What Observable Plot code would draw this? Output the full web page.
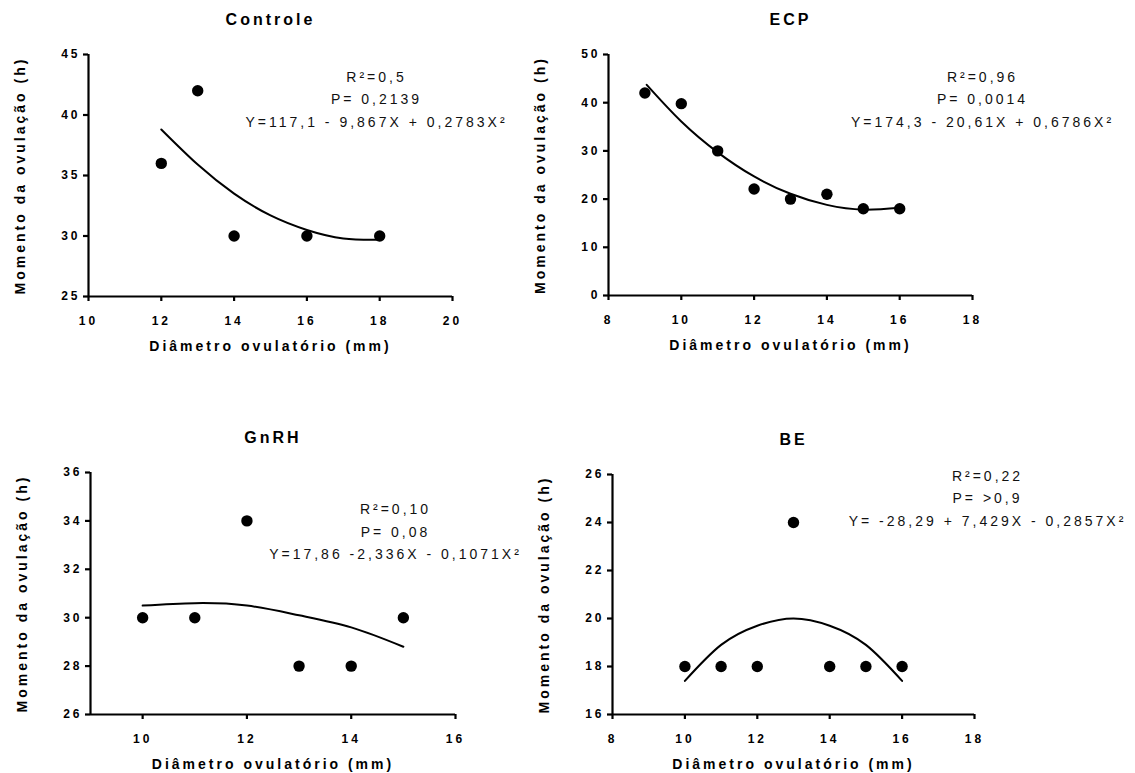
<!DOCTYPE html>
<html><head><meta charset="utf-8">
<script src="https://cdn.jsdelivr.net/npm/d3@7"></script>
<script src="https://cdn.jsdelivr.net/npm/@observablehq/plot@0.6"></script>
<style>
body{margin:0;background:#fff;}
#chart{position:relative;width:1135px;height:773px;overflow:hidden;background:#fff;}
#chart svg{position:absolute;}
</style></head><body><div id="chart"></div>
<script>
// ---- texts ----
const yLabel = "Momento da ovulação (h)";
const xLabel = "Diâmetro ovulatório (mm)";

// ---- Controle ----
const controleTitle = "Controle";
const controleX = [12, 13, 14, 16, 18];
const controleY = [36, 42, 30, 30, 30];
const controleFitX = [12, 13, 14, 15, 16, 17, 18];
const controleFitY = [38.8, 35.9, 33.5, 31.7, 30.5, 29.8, 29.7];
const controleXDomain = [10, 20];
const controleYDomain = [25, 45];
const controleXTicks = [10, 12, 14, 16, 18, 20];
const controleYTicks = [25, 30, 35, 40, 45];
const controleStats = ["R²=0,5", "P= 0,2139", "Y=117,1 - 9,867X + 0,2783X²"];

// ---- ECP ----
const ecpTitle = "ECP";
const ecpX = [9, 10, 11, 12, 13, 14, 15, 16];
const ecpY = [42, 39.8, 30, 22.1, 20, 21, 18, 18];
const ecpFitX = [9.05, 10, 11, 12, 13, 14, 15, 16];
const ecpFitY = [43.7, 36.1, 29.7, 24.7, 21.1, 18.8, 17.8, 18.2];
const ecpXDomain = [8, 18];
const ecpYDomain = [0, 50];
const ecpXTicks = [8, 10, 12, 14, 16, 18];
const ecpYTicks = [0, 10, 20, 30, 40, 50];
const ecpStats = ["R²=0,96", "P= 0,0014", "Y=174,3 - 20,61X + 0,6786X²"];

// ---- GnRH ----
const gnrhTitle = "GnRH";
const gnrhX = [10, 11, 12, 13, 14, 15];
const gnrhY = [30, 30, 34, 28, 28, 30];
const gnrhFitX = [10, 11, 12, 13, 14, 15];
const gnrhFitY = [30.5, 30.6, 30.5, 30.1, 29.6, 28.8];
const gnrhXDomain = [9, 16];
const gnrhYDomain = [26, 36];
const gnrhXTicks = [10, 12, 14, 16];
const gnrhYTicks = [26, 28, 30, 32, 34, 36];
const gnrhStats = ["R²=0,10", "P= 0,08", "Y=17,86 -2,336X - 0,1071X²"];

// ---- BE ----
const beTitle = "BE";
const beX = [10, 11, 12, 13, 14, 15, 16];
const beY = [18, 18, 18, 24, 18, 18, 18];
const beFitX = [10, 11, 12, 13, 14, 15, 16];
const beFitY = [17.4, 18.9, 19.7, 20.0, 19.7, 18.9, 17.4];
const beXDomain = [8, 18];
const beYDomain = [16, 26];
const beXTicks = [8, 10, 12, 14, 16, 18];
const beYTicks = [16, 18, 20, 22, 24, 26];
const beStats = ["R²=0,22", "P= >0,9", "Y= -28,29 + 7,429X - 0,2857X²"];

const zip = (xs, ys) => xs.map((x, i) => ({x, y: ys[i]}));

const panels = [
  {title: controleTitle, pts: zip(controleX, controleY), fit: zip(controleFitX, controleFitY),
   xd: controleXDomain, yd: controleYDomain, xt: controleXTicks, yt: controleYTicks, stats: controleStats,
   left: 0, top: 0, width: 525, height: 386, ml: 88, mr: 73, mt: 54, mb: 90, sdx: 288, sdy: 42.5},
  {title: ecpTitle, pts: zip(ecpX, ecpY), fit: zip(ecpFitX, ecpFitY),
   xd: ecpXDomain, yd: ecpYDomain, xt: ecpXTicks, yt: ecpYTicks, stats: ecpStats,
   left: 525, top: 0, width: 610, height: 386, ml: 83, mr: 163, mt: 54, mb: 91, sdx: 374, sdy: 42.5},
  {title: gnrhTitle, pts: zip(gnrhX, gnrhY), fit: zip(gnrhFitX, gnrhFitY),
   xd: gnrhXDomain, yd: gnrhYDomain, xt: gnrhXTicks, yt: gnrhYTicks, stats: gnrhStats,
   left: 0, top: 386, width: 525, height: 387, ml: 90, mr: 70, mt: 86, mb: 59, sdx: 305, sdy: 57},
  {title: beTitle, pts: zip(beX, beY), fit: zip(beFitX, beFitY),
   xd: beXDomain, yd: beYDomain, xt: beXTicks, yt: beYTicks, stats: beStats,
   left: 525, top: 386, width: 610, height: 387, ml: 87, mr: 161, mt: 88, mb: 59, sdx: 375, sdy: 21.5}
];

const FONT = "'Liberation Sans', Arial, Helvetica, sans-serif";
const chart = document.getElementById("chart");

for (const p of panels) {
  const svg = Plot.plot({
    width: p.width, height: p.height,
    marginLeft: p.ml, marginRight: p.mr, marginTop: p.mt, marginBottom: p.mb,
    x: {domain: p.xd}, y: {domain: p.yd},
    style: {fontFamily: FONT, fontSize: "12px", color: "black", background: "transparent", overflow: "visible"},
    marks: [
      Plot.ruleX([p.xd[0]], {stroke: "black", strokeWidth: 2.2}),
      Plot.ruleY([p.yd[0]], {stroke: "black", strokeWidth: 2.2}),
      Plot.axisX(p.xt, {tickSize: 5, tickPadding: 15, strokeWidth: 2.2, fontWeight: "bold", fontSize: 12, label: null}),
      Plot.axisY(p.yt, {tickSize: 5, tickPadding: 3, strokeWidth: 2.2, fontWeight: "bold", fontSize: 12, label: null}),
      Plot.line(p.fit, {x: "x", y: "y", curve: "natural", stroke: "black", strokeWidth: 2}),
      Plot.dot(p.pts, {x: "x", y: "y", r: 5.7, fill: "black", stroke: "none"}),
      Plot.text([p.title], {text: d => d, frameAnchor: "top", dy: -35, lineAnchor: "middle",
        fontSize: 16, fontWeight: "bold", ariaLabel: "title"}),
      Plot.text([xLabel], {text: d => d, frameAnchor: "bottom", dy: 50, lineAnchor: "middle",
        fontSize: 14, fontWeight: "bold", ariaLabel: "xlabel"}),
      Plot.text([yLabel], {text: d => d, frameAnchor: "left", dx: -68, rotate: -90, textAnchor: "middle", lineAnchor: "middle",
        fontSize: 14, fontWeight: "bold", ariaLabel: "ylabel"}),
      Plot.text([p.stats.join("\n")], {text: d => d, frameAnchor: "top-left", dx: p.sdx, dy: p.sdy,
        textAnchor: "middle", lineAnchor: "middle", lineHeight: 1.6, fontSize: 14, fill: "#111", ariaLabel: "stats"})
    ]
  });
  svg.style.left = p.left + "px";
  svg.style.top = p.top + "px";
  const s = d3.select(svg);
  s.selectAll("text").style("letter-spacing", "3px");
  s.selectAll('g[aria-label="title"] text').style("letter-spacing", "5px");
  s.selectAll('g[aria-label$="tick label"]').style("font-weight", "bold").style("font-size", "12px");
  s.selectAll('g[aria-label$="tick label"] text').style("font-weight", "bold");
  chart.appendChild(svg);
}
</script></body></html>
